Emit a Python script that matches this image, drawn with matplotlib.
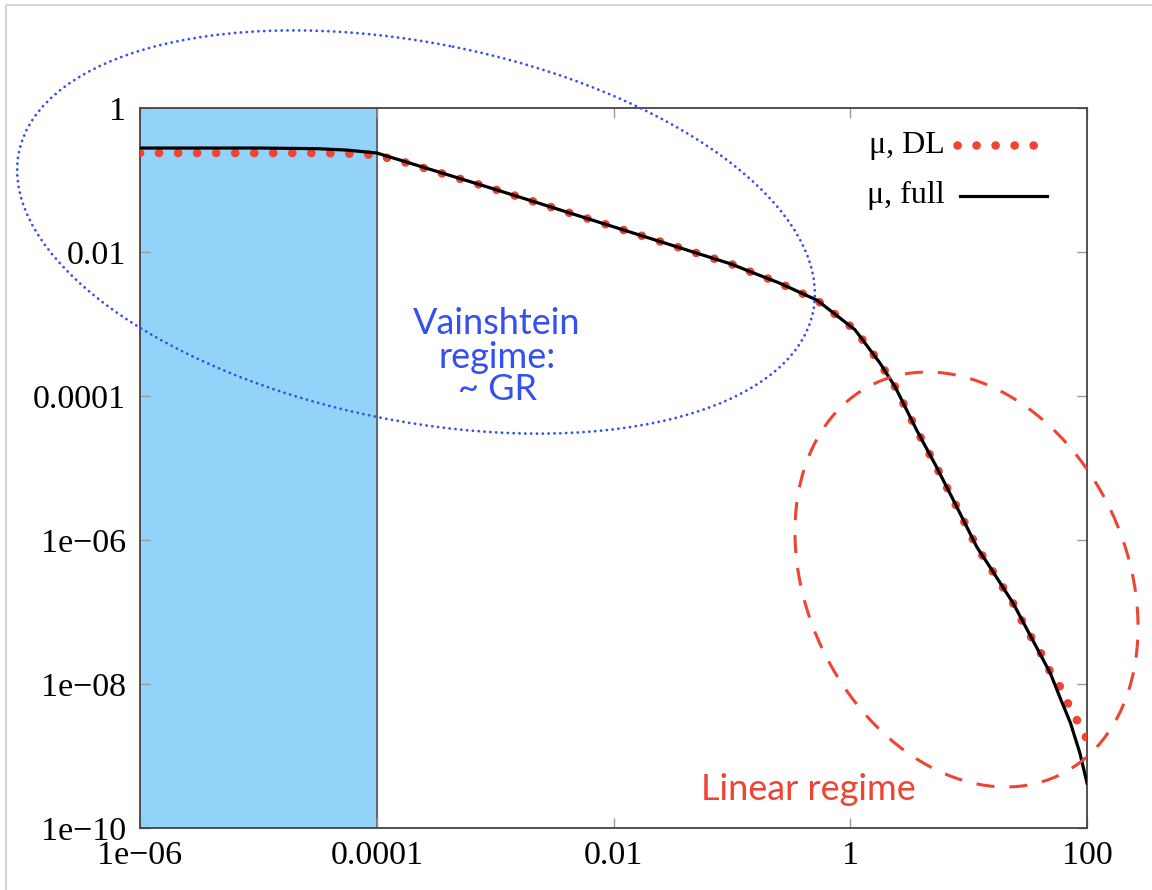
import numpy as np
import matplotlib.pyplot as plt
from matplotlib.patches import Ellipse
from matplotlib.lines import Line2D
from matplotlib.ticker import NullLocator

# log10(r) and log10(mu)
full_logr = [-6.0, -5.0, -4.5, -4.25, -4.0, -3.75, -3.0, -2.0, -1.0, -0.85, -0.6,
             -0.28, 0.04, 0.25, 0.38, 0.56, 0.73, 0.9, 1.07, 1.18, 1.375, 1.69,
             1.77, 1.86, 1.94, 2.0]
full_logmu = [-0.556, -0.556, -0.565, -0.585, -0.625, -0.75, -1.13, -1.65, -2.17,
              -2.27, -2.43, -2.67, -3.08, -3.54, -3.875, -4.47, -4.99, -5.54, -6.10,
              -6.375, -6.875, -7.85, -8.18, -8.54, -8.96, -9.375]

dl_logr = [-6.0, -4.5, -4.2, -4.0, -3.75, -3.0, -2.0, -1.0, -0.85, -0.6, -0.28,
           0.04, 0.25, 0.38, 0.56, 0.73, 0.9, 1.07, 1.18, 1.375, 1.434, 1.49, 1.56,
           1.62, 1.67, 1.74, 1.80, 1.85, 1.905, 1.966, 2.0]
dl_logmu = [-0.625, -0.625, -0.635, -0.655, -0.76, -1.13, -1.65, -2.17, -2.27,
            -2.43, -2.67, -3.08, -3.54, -3.875, -4.47, -4.99, -5.54, -6.10, -6.375,
            -6.875, -7.07, -7.25, -7.43, -7.6, -7.78, -7.94, -8.125, -8.31, -8.47,
            -8.67, -8.76]

xticks = [1e-6, 1e-4, 1e-2, 1, 100]
xticklabels = ['1e\u221206', '0.0001', '0.01', '1', '100']
yticks = [1e-10, 1e-8, 1e-6, 1e-4, 1e-2, 1]
yticklabels = ['1e\u221210', '1e\u221208', '1e\u221206', '0.0001', '0.01', '1']
shade_r = (1e-6, 1e-4)

RED = '#ee4433'
BLUE = '#3450f0'
SERIF = 'Liberation Serif'
DOTS = (0, (0.01, 2.2))

W, H = 1152, 890
fig = plt.figure(figsize=(W / 100, H / 100), dpi=100)
ax = fig.add_axes([140 / W, 1 - 828 / H, (1087 - 140) / W, (828 - 108) / H])
ax.set_xscale('log')
ax.set_yscale('log')
ax.set_xlim(1e-6, 100)
ax.set_ylim(1e-10, 1)

ax.axvspan(*shade_r, color='#93d3fa', zorder=0)
ax.axvline(shade_r[1], color='#555555', lw=1.2, zorder=1)

r_dl, mu_dl = 10 ** np.array(dl_logr), 10 ** np.array(dl_logmu)
r_full, mu_full = 10 ** np.array(full_logr), 10 ** np.array(full_logmu)
ax.plot(r_dl, mu_dl, color=RED, lw=6.2, ls=DOTS, dash_capstyle='round', zorder=3)
ax.plot(r_full, mu_full, color='black', lw=2.3, zorder=4)

ax.set_xticks(xticks, xticklabels, fontfamily=SERIF, fontsize=24.5)
ax.set_yticks(yticks, yticklabels, fontfamily=SERIF, fontsize=24.5)
ax.xaxis.set_minor_locator(NullLocator())
ax.yaxis.set_minor_locator(NullLocator())
ax.tick_params(direction='in', length=7.2, width=1, color='#999999',
               top=True, right=True)
ax.tick_params(axis='x', pad=9)
ax.tick_params(axis='y', pad=10)
for sp in ax.spines.values():
    sp.set_color('#444444')
    sp.set_linewidth(1.3)

# overlay in pixel coordinates for annotations
ov = fig.add_axes([0, 0, 1, 1], zorder=5)
ov.set_xlim(0, W)
ov.set_ylim(H, 0)
ov.axis('off')
ov.patch.set_alpha(0)

ov.plot([6, 6, W], [H, 5, 5], color='#cccccc', lw=1.2)

ov.add_patch(Ellipse((416, 232), 810, 378, angle=11.3, fill=False, ec=BLUE,
                     lw=2.0, ls=(0, (0.05, 2.05)), capstyle='round'))
ov.add_patch(Ellipse((966.5, 579.5), 433, 320, angle=64.9, fill=False, ec=RED,
                     lw=2.2, ls=(0, (5.9, 4.9))))

ov.text(497, 357, 'Vainshtein\nregime:\n~ GR', ha='center', va='center',
        multialignment='center', color=BLUE, family='Lato', fontsize=26,
        linespacing=1.0)
ov.text(808, 789, 'Linear regime', ha='center', va='center', color=RED,
        family='Lato', fontsize=26)

# key
ov.text(945, 145, '\u03bc, DL', ha='right', va='center', family=SERIF, fontsize=23)
ov.add_line(Line2D([957, 1035], [145, 145], color=RED, lw=6.2, ls=DOTS,
                   dash_capstyle='round'))
ov.text(945, 195, '\u03bc, full', ha='right', va='center', family=SERIF, fontsize=23)
ov.add_line(Line2D([960, 1047], [196, 196], color='black', lw=2.3))

fig.savefig('out.png', dpi=100)
